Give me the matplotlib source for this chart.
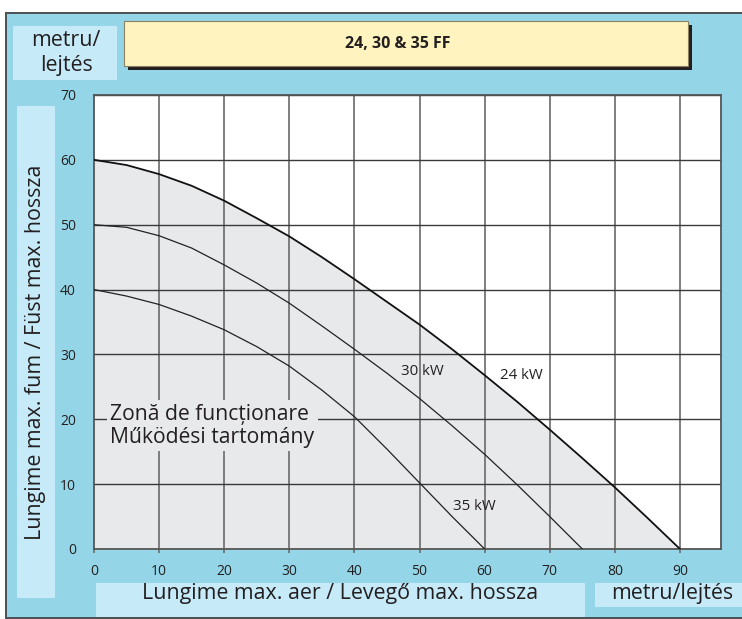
import matplotlib.pyplot as plt
from matplotlib.patches import Rectangle

# ---------------------------------------------------------------------------
# data (air length vs flue length, metres)
# ---------------------------------------------------------------------------
AIR_24 = [0, 5, 10, 15, 20, 25, 30, 35, 40, 45, 50, 55, 60, 65, 70, 75, 80, 85, 90]
FUM_24 = [60, 59.2, 57.8, 56.0, 53.7, 51.0, 48.2, 45.0, 41.6, 38.1, 34.6, 30.8,
          26.8, 22.7, 18.4, 14.0, 9.5, 4.8, 0]

AIR_30 = [0, 5, 10, 15, 20, 25, 30, 35, 40, 45, 50, 55, 60, 65, 70, 75]
FUM_30 = [50, 49.6, 48.3, 46.4, 43.8, 41.0, 37.9, 34.4, 30.8, 27.1, 23.2, 19.0,
          14.6, 9.9, 5.0, 0]

AIR_35 = [0, 5, 10, 15, 20, 25, 30, 35, 40, 45, 50, 55, 60]
FUM_35 = [40, 39.0, 37.7, 35.9, 33.8, 31.2, 28.2, 24.5, 20.4, 15.4, 10.2, 5.0, 0]

X_TICKS = [0, 10, 20, 30, 40, 50, 60, 70, 80, 90]
Y_TICKS = [0, 10, 20, 30, 40, 50, 60, 70]

TITLE = "24, 30 & 35 FF"
X_LABEL = "Lungime max. aer / Levegő max. hossza"
Y_LABEL = "Lungime max. fum / Füst max. hossza"
UNIT_X = "metru/lejtés"
UNIT_Y = "metru/\nlejtés"
ZONE = "Zonă de funcționare\nMűködési tartomány"

# ---------------------------------------------------------------------------
W, H = 742, 619
FRAME = "#94d6e8"
BOX = "#c6eaf8"
YELLOW = "#fff3bf"
ZONE_FILL = "#e8e9eb"
INK = "#231f20"
FONT = ["Open Sans", "DejaVu Sans"]

plt.rcParams["font.family"] = FONT

fig = plt.figure(figsize=(W / 100, H / 100), dpi=100, facecolor="white")


def px_rect(x0, y0, x1, y1, **kw):
    """Rectangle given in image pixels (origin top-left), drawn behind the axes."""
    r = Rectangle((x0 / W, 1 - y1 / H), (x1 - x0) / W, (y1 - y0) / H,
                  transform=fig.transFigure, zorder=-1, **kw)
    fig.patches.append(r)
    return r


def px_text(x, y, s, **kw):
    fig.text(x / W, 1 - y / H, s, **kw)


# outer frame and label boxes
px_rect(6, 13, 760, 618, facecolor=FRAME, edgecolor="#4a4f52", linewidth=1.4)
px_rect(13, 26, 117, 80, facecolor=BOX, edgecolor="none")
px_rect(17, 106, 55, 598, facecolor=BOX, edgecolor="none")
px_rect(96, 583, 585, 617, facecolor=BOX, edgecolor="none")
px_rect(595, 583, 742, 607, facecolor=BOX, edgecolor="none")

# title box with drop shadow
px_rect(128, 25, 692, 70, facecolor=INK, edgecolor="none")
px_rect(124, 21, 688, 66, facecolor=YELLOW, edgecolor="#8c8160", linewidth=0.8)
px_text(398, 44, TITLE, ha="center", va="center", fontsize=11.5,
        fontweight="bold", color=INK)

px_text(66, 53, UNIT_Y, ha="center", va="center", fontsize=15.4, color=INK,
        linespacing=1.3)
px_text(36, 352, Y_LABEL, ha="center", va="center", rotation=90, fontsize=15.4,
        color=INK)
px_text(340, 594, X_LABEL, ha="center", va="center", fontsize=15.4, color=INK)
px_text(672, 594, UNIT_X, ha="center", va="center", fontsize=15.4, color=INK)

# plot area
left, right, top, bottom = 94, 721, 95, 549
ax = fig.add_axes([left / W, 1 - bottom / H, (right - left) / W, (bottom - top) / H])
ax.set_facecolor("white")
ax.set_xlim(0, 96.3)
ax.set_ylim(0, 70)

ax.fill_between(AIR_24, FUM_24, 0, color=ZONE_FILL, linewidth=0, zorder=1)

for x in X_TICKS[1:]:
    ax.axvline(x, color="#6a6a6a", linewidth=1.2, zorder=2)
for y in Y_TICKS[1:]:
    ax.axhline(y, color="#3a3a3a", linewidth=1.0, zorder=2)

ax.plot(AIR_24, FUM_24, color="#111111", linewidth=1.3, zorder=3)
ax.plot(AIR_30, FUM_30, color="#222222", linewidth=0.9, zorder=3)
ax.plot(AIR_35, FUM_35, color="#222222", linewidth=0.9, zorder=3)

ax.text(50.4, 27.4, "30 kW", ha="center", va="center", fontsize=10.8,
        color=INK, zorder=4)
ax.text(65.6, 26.7, "24 kW", ha="center", va="center", fontsize=10.8,
        color=INK, zorder=4)
ax.text(58.4, 6.5, "35 kW", ha="center", va="center", fontsize=10.8,
        color=INK, zorder=4)

ax.text(2.5, 19.0, ZONE, ha="left", va="center", fontsize=15.2, color=INK,
        linespacing=1.15, zorder=5,
        bbox=dict(boxstyle="square,pad=0.15", facecolor=ZONE_FILL,
                  edgecolor="none"))

ax.set_xticks(X_TICKS)
ax.set_yticks(Y_TICKS)
ax.tick_params(axis="x", length=3, width=1.2, color="#6a6a6a", pad=8,
               labelsize=10, labelcolor=INK)
ax.tick_params(axis="y", length=0, pad=13, labelsize=10, labelcolor=INK)
for spine in ax.spines.values():
    spine.set_color("#555555")
    spine.set_linewidth(1.3)

fig.savefig("out.png", dpi=100, facecolor="white")
